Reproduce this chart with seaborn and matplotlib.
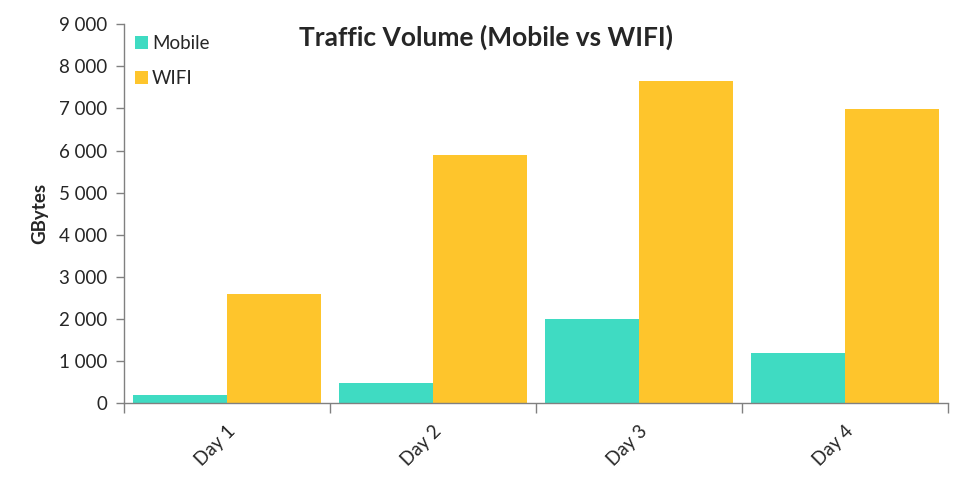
import pandas as pd
import seaborn as sns
import matplotlib.pyplot as plt
from matplotlib.ticker import FuncFormatter, FixedLocator

days = ['Day 1', 'Day 2', 'Day 3', 'Day 4']
mobile = [200, 490, 2000, 1200]
wifi = [2600, 5900, 7650, 6980]

df = pd.DataFrame({
    'Day': days * 2,
    'GBytes': mobile + wifi,
    'Type': ['Mobile'] * 4 + ['WIFI'] * 4,
})

sns.set_style('white')
plt.rcParams['font.family'] = ['Lato', 'DejaVu Sans']

fig = plt.figure(figsize=(9.71, 4.83), dpi=100)
ax = fig.add_axes([0.1277, 0.165, 0.8486, 0.785])

sns.barplot(data=df, x='Day', y='GBytes', hue='Type', order=days,
            palette={'Mobile': '#3fdbc2', 'WIFI': '#fec52c'},
            width=0.91, gap=0, saturation=1, linewidth=0, ax=ax)

ax.set_xlim(-0.5, 3.5)
ax.set_ylim(0, 9000)
ax.set_yticks(range(0, 9001, 1000))
ax.yaxis.set_major_formatter(FuncFormatter(lambda v, p: f'{v:,.0f}'.replace(',', ' ')))

# ticks between categories, labels at centres
ax.xaxis.set_minor_locator(FixedLocator([-0.5, 0.5, 1.5, 2.5, 3.5]))
ax.tick_params(axis='x', which='major', length=0, pad=14)
ax.tick_params(axis='x', which='minor', bottom=True, length=7, width=1, color='#808080', direction='out')
ax.tick_params(axis='y', left=True, length=6, width=1, color='#808080', direction='out', pad=6)
ax.tick_params(labelsize=13.5)
for lab in ax.get_xticklabels():
    lab.set_rotation(45)
    lab.set_ha('right')
    lab.set_rotation_mode('anchor')

for s in ['top', 'right']:
    ax.spines[s].set_visible(False)
for s in ['left', 'bottom']:
    ax.spines[s].set_color('#808080')
    ax.spines[s].set_linewidth(1)

ax.set_xlabel('')
ax.set_ylabel('GBytes', fontsize=13.5, fontweight='bold', labelpad=8)

fig.text(0.5, 0.922, 'Traffic Volume (Mobile vs WIFI)', ha='center', va='center',
         fontsize=19, fontweight='bold')

ax.legend(loc='upper left', bbox_to_anchor=(0.0, 1.0), frameon=False, fontsize=13.5,
          handlelength=0.7, handleheight=0.7, handletextpad=0.2, labelspacing=0.95,
          borderaxespad=0.2)

fig.savefig('out.png', dpi=100)
